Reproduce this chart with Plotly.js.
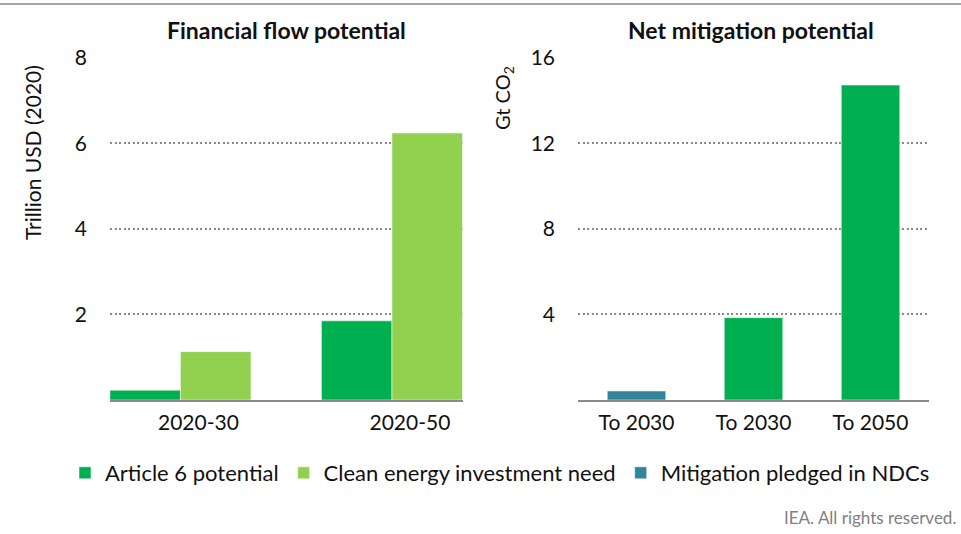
<!DOCTYPE html>
<html><head><meta charset="utf-8">
<script src="https://cdn.plot.ly/plotly-3.0.1.min.js"></script>
<style>html,body{margin:0;padding:0;background:#fff;} #chart{width:961px;height:534px;}</style>
</head><body><div id="chart"></div>
<script>
// ---- data ----
const flowPeriods = ['2020-30', '2020-50'];
const article6Finance = [0.23, 1.85];
const cleanEnergyNeed = [1.13, 6.24];
const mitigationLabels = ['To 2030', 'To 2030', 'To 2050'];
const ndcPledged = [0.42, null, null];
const article6Mitigation = [null, 3.85, 14.72];
const seriesNames = ['Article 6 potential', 'Clean energy investment need', 'Mitigation pledged in NDCs'];
const flowTicks = [2, 4, 6, 8];
const mitigationTicks = [4, 8, 12, 16];

// ---- style ----
const FONT = 'Lato, "Open Sans", sans-serif';
const C_A6 = '#00B050', C_CLEAN = '#92D050', C_NDC = '#31859C';
const mitigationIdx = mitigationLabels.map((_, i) => i);

const traces = [
  {type: 'bar', name: seriesNames[0], x: flowPeriods, y: article6Finance, xaxis: 'x', yaxis: 'y',
   marker: {color: C_A6, line: {color: '#ffffff', width: 0.5}}, legendgroup: 'a6'},
  {type: 'bar', name: seriesNames[1], x: flowPeriods, y: cleanEnergyNeed, xaxis: 'x', yaxis: 'y',
   marker: {color: C_CLEAN, line: {color: '#ffffff', width: 0.5}}, legendgroup: 'clean'},
  {type: 'bar', name: seriesNames[2], x: mitigationIdx, y: ndcPledged, xaxis: 'x2', yaxis: 'y2',
   width: 0.5, offset: -0.25,
   marker: {color: C_NDC, line: {color: '#ffffff', width: 0.5}}, legendgroup: 'ndc'},
  {type: 'bar', name: seriesNames[0], x: mitigationIdx, y: article6Mitigation, xaxis: 'x2', yaxis: 'y2',
   width: 0.5, offset: -0.25, showlegend: false,
   marker: {color: C_A6, line: {color: '#ffffff', width: 0.5}}, legendgroup: 'a6'}
];

const W = 961, H = 534;
const px = v => v / W, py = v => 1 - v / H;

const gridStyle = {showgrid: true, gridcolor: '#8a8a8a', gridwidth: 2, griddash: '2px,2.5px',
  zeroline: false, showline: false, ticks: '', automargin: false,
  tickfont: {family: FONT, size: 21, color: '#111'}, ticklabelstandoff: 22};

const xTickFont = {family: FONT, size: 21, color: '#111'};

const layout = {
  width: W, height: H,
  margin: {l: 0, r: 0, t: 0, b: 0},
  paper_bgcolor: '#fff', plot_bgcolor: '#fff',
  font: {family: FONT, color: '#111'},
  barmode: 'group', bargap: 0.333, bargroupgap: 0,
  showlegend: true,
  legend: {orientation: 'h', x: px(500), xanchor: 'center', y: py(473), yanchor: 'middle',
    font: {family: FONT, size: 22, color: '#111'}, traceorder: 'normal', itemclick: false, itemwidth: 30},
  xaxis: {domain: [px(110), px(463)], anchor: 'y', type: 'category', range: [-0.333, 1.336],
    showline: true, linecolor: '#8a8a8a', linewidth: 1.5, ticks: '', showgrid: false, zeroline: false,
    tickfont: xTickFont, ticklabelshift: 18, ticklabelstandoff: 3, automargin: false},
  yaxis: Object.assign({}, gridStyle, {domain: [py(400), py(57.7)], anchor: 'x', range: [0, 8], tickvals: flowTicks}),
  xaxis2: {domain: [px(578), px(929)], anchor: 'y2', type: 'linear', range: [-0.5, 2.5],
    tickvals: mitigationIdx, ticktext: mitigationLabels,
    showline: true, linecolor: '#8a8a8a', linewidth: 1.5, ticks: '', showgrid: false, zeroline: false,
    tickfont: xTickFont, ticklabelstandoff: 3, automargin: false},
  yaxis2: Object.assign({}, gridStyle, {domain: [py(400), py(57.7)], anchor: 'x2', range: [0, 16], tickvals: mitigationTicks}),
  shapes: [
    {type: 'line', xref: 'paper', yref: 'paper', x0: 0, x1: 1, y0: py(4), y1: py(4),
     line: {color: '#a6a6a6', width: 2}}
  ],
  annotations: [
    {text: '<b>Financial flow potential</b>', xref: 'paper', yref: 'paper', x: px(286), y: py(30),
     xanchor: 'center', yanchor: 'middle', showarrow: false, font: {family: FONT, size: 23, color: '#111'}},
    {text: '<b>Net mitigation potential</b>', xref: 'paper', yref: 'paper', x: px(750.5), y: py(30),
     xanchor: 'center', yanchor: 'middle', showarrow: false, font: {family: FONT, size: 23, color: '#111'}},
    {text: 'Trillion USD (2020)', xref: 'paper', yref: 'paper', x: px(33), y: py(153), textangle: -90,
     xanchor: 'center', yanchor: 'middle', showarrow: false, font: {family: FONT, size: 21, color: '#111'}},
    {text: 'Gt CO<sub>2</sub>', xref: 'paper', yref: 'paper', x: px(503), y: py(98), textangle: -90,
     xanchor: 'center', yanchor: 'middle', showarrow: false, font: {family: FONT, size: 20, color: '#111'}},
    {text: 'IEA. All rights reserved.', xref: 'paper', yref: 'paper', x: px(958), y: py(517),
     xanchor: 'right', yanchor: 'middle', showarrow: false, font: {family: FONT, size: 17, color: '#7f7f7f'}}
  ]
};

Plotly.newPlot('chart', traces, layout, {staticPlot: true, displayModeBar: false});
</script>
</body></html>
